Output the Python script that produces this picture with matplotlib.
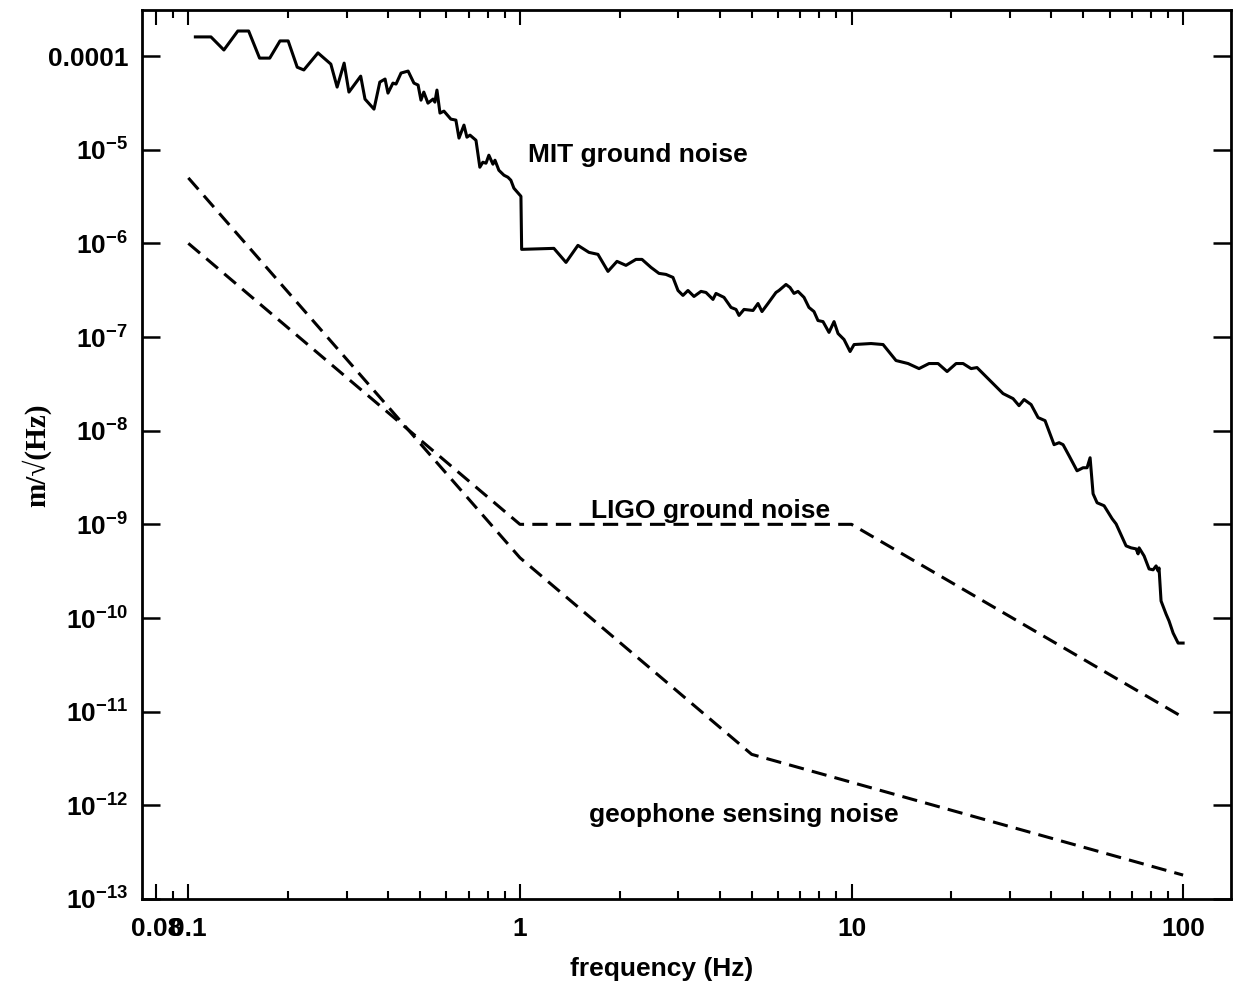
import matplotlib.pyplot as plt

plt.rcParams['font.family'] = ['Liberation Sans', 'DejaVu Sans']
plt.rcParams['font.weight'] = 'bold'
plt.rcParams['axes.labelweight'] = 'bold'
plt.rcParams['mathtext.fontset'] = 'custom'
plt.rcParams['mathtext.rm'] = 'Liberation Sans:bold'
plt.rcParams['mathtext.it'] = 'Liberation Sans:bold'
plt.rcParams['mathtext.bf'] = 'Liberation Sans:bold'
plt.rcParams['mathtext.default'] = 'rm'

# MIT ground noise (Hz, m/sqrt(Hz))
mit_freq = [0.105, 0.117, 0.128, 0.141, 0.152, 0.164, 0.176, 0.189, 0.200, 0.213,
            0.223, 0.246, 0.269, 0.281, 0.295, 0.305, 0.331, 0.341, 0.363, 0.378,
            0.392, 0.400, 0.414, 0.423, 0.438, 0.460, 0.479, 0.493, 0.503, 0.513,
            0.528, 0.547, 0.554, 0.562, 0.574, 0.590, 0.619, 0.641, 0.655, 0.678,
            0.692, 0.707, 0.737, 0.757, 0.773, 0.790, 0.806, 0.829, 0.841, 0.864,
            0.895, 0.920, 0.939, 0.959, 1.007, 1.012,
            1.24, 1.266, 1.377, 1.496, 1.615, 1.719, 1.843, 1.962, 2.088, 2.238,
            2.334, 2.484, 2.626, 2.757, 2.894, 2.997, 3.102, 3.212, 3.349, 3.516,
            3.640, 3.821, 3.902, 4.125, 4.331, 4.484, 4.578, 4.74, 5.046, 5.224,
            5.37, 5.599, 5.918, 6.043, 6.344, 6.523, 6.707, 6.896, 7.19, 7.44,
            7.705, 7.922, 8.204, 8.553, 8.857, 9.106, 9.494, 9.90, 10.18,
            11.45, 12.45, 13.62, 14.81, 15.98, 17.13, 18.24, 19.42, 20.67, 21.7,
            22.94, 23.9, 25.99, 28.64, 30.7, 32.0, 33.15, 34.8, 36.53, 38.34,
            40.82, 42.26, 43.45, 45.3, 47.88, 49.92, 51.33, 52.42, 53.52, 55.03,
            57.77, 61.07, 62.8, 67.3, 69.67, 72.14, 73.15, 73.66, 76.27, 78.96,
            81.19, 82.9, 84.05, 84.6, 85.8, 88.85, 90.7, 93.3, 96.6, 100.0]
mit_amp = [1.60e-4, 1.60e-4, 1.16e-4, 1.85e-4, 1.85e-4, 9.5e-5, 9.5e-5, 1.45e-4, 1.45e-4, 7.6e-5,
           7.1e-5, 1.08e-4, 8.2e-5, 4.66e-5, 8.4e-5, 4.12e-5, 6.1e-5, 3.47e-5, 2.71e-5, 5.27e-5,
           5.68e-5, 4.02e-5, 5.14e-5, 5.02e-5, 6.58e-5, 6.91e-5, 5.14e-5, 4.9e-5, 3.38e-5, 4.12e-5,
           3.14e-5, 3.47e-5, 3.22e-5, 4.33e-5, 2.46e-5, 2.58e-5, 2.12e-5, 2.07e-5, 1.33e-5, 1.83e-5,
           1.36e-5, 1.43e-5, 1.26e-5, 6.5e-6, 7.35e-6, 7.17e-6, 8.73e-6, 7.0e-6, 7.72e-6, 6.03e-6,
           5.34e-6, 5.08e-6, 4.72e-6, 3.88e-6, 3.18e-6, 8.63e-7,
           8.84e-7, 8.84e-7, 6.26e-7, 9.52e-7, 8.01e-7, 7.63e-7, 5.02e-7, 6.42e-7, 5.82e-7, 6.74e-7,
           6.74e-7, 5.54e-7, 4.78e-7, 4.66e-7, 4.33e-7, 3.14e-7, 2.78e-7, 3.14e-7, 2.71e-7, 3.07e-7,
           2.99e-7, 2.52e-7, 2.92e-7, 2.65e-7, 2.07e-7, 1.97e-7, 1.70e-7, 1.97e-7, 1.92e-7, 2.28e-7,
           1.87e-7, 2.28e-7, 2.99e-7, 3.14e-7, 3.64e-7, 3.38e-7, 2.92e-7, 3.07e-7, 2.65e-7, 2.07e-7,
           1.87e-7, 1.50e-7, 1.46e-7, 1.12e-7, 1.46e-7, 1.09e-7, 9.4e-8, 7.0e-8, 8.31e-8,
           8.52e-8, 8.31e-8, 5.61e-8, 5.21e-8, 4.6e-8, 5.21e-8, 5.21e-8, 4.28e-8, 5.21e-8, 5.21e-8,
           4.6e-8, 4.72e-8, 3.51e-8, 2.49e-8, 2.2e-8, 1.85e-8, 2.15e-8, 1.9e-8, 1.38e-8, 1.28e-8,
           7.09e-9, 7.44e-9, 7.09e-9, 5.4e-9, 3.73e-9, 4.02e-9, 4.02e-9, 5.14e-9, 2.12e-9, 1.70e-9,
           1.58e-9, 1.15e-9, 1.01e-9, 5.89e-10, 5.61e-10, 5.47e-10, 4.84e-10, 5.61e-10, 4.6e-10, 3.34e-10,
           3.27e-10, 3.6e-10, 3.18e-10, 3.42e-10, 1.52e-10, 1.10e-10, 9.29e-11, 6.91e-11, 5.4e-11, 5.4e-11]

# LIGO ground noise model (broken power law)
ligo_freq = [0.1, 1, 10, 100]
ligo_amp = [1e-6, 1e-9, 1e-9, 8.7e-12]

# geophone sensing noise
geo_freq = [0.1, 1, 5, 100]
geo_amp = [5e-6, 4.4e-10, 3.5e-12, 1.8e-13]

x_major = [0.08, 0.1, 1, 10, 100]
x_major_labels = ['0.08', '0.1', '1', '10', '100']
x_minor = [0.09, 0.2, 0.3, 0.4, 0.5, 0.6, 0.7, 0.8, 0.9,
           2, 3, 4, 5, 6, 7, 8, 9, 20, 30, 40, 50, 60, 70, 80, 90]
y_major = [1e-4, 1e-5, 1e-6, 1e-7, 1e-8, 1e-9, 1e-10, 1e-11, 1e-12, 1e-13]
y_labels = ['0.0001', r'$10^{-5}$', r'$10^{-6}$', r'$10^{-7}$', r'$10^{-8}$',
            r'$10^{-9}$', r'$10^{-10}$', r'$10^{-11}$', r'$10^{-12}$', r'$10^{-13}$']

fig = plt.figure(figsize=(12.35, 9.81), dpi=100)
ax = fig.add_axes([0.115, 0.0836, 0.8818, 0.9062])

ax.plot(mit_freq, mit_amp, color='black', linewidth=2.2, solid_joinstyle='round')
ax.plot(ligo_freq, ligo_amp, color='black', linewidth=2.2, linestyle=(0, (5, 2.7)))
ax.plot(geo_freq, geo_amp, color='black', linewidth=2.2, linestyle=(0, (5, 2.7)))

ax.set_xscale('log')
ax.set_yscale('log')
ax.set_xlim(0.0725, 139.5)
ax.set_ylim(1e-13, 3.1e-4)

ax.set_xticks(x_major, x_major_labels)
ax.set_xticks(x_minor, minor=True)
ax.set_yticks(y_major, y_labels)
ax.set_yticks([], minor=True)

ax.tick_params(which='both', direction='in', top=True, right=True, labelsize=19)
ax.tick_params(axis='x', which='major', length=11, width=1.5, pad=13)
ax.tick_params(axis='x', which='minor', length=6, width=1.5)
ax.tick_params(axis='y', which='major', length=13, width=1.8, pad=10)
for sp in ax.spines.values():
    sp.set_linewidth(2)

ax.set_xlabel('frequency (Hz)', fontsize=19, fontweight='bold', va='center')
ax.xaxis.set_label_coords(0.4775, -0.0787)
ax.set_ylabel('m/\u221a(Hz)', fontsize=21, fontweight='bold',
              family=['Liberation Serif', 'DejaVu Serif'], va='center', ha='center')
ax.yaxis.set_label_coords(-0.0973, 0.4994)

ax.text(1.057, 7.35e-6, 'MIT ground noise', fontsize=19, va='baseline')
ax.text(1.64, 1.17e-9, 'LIGO ground noise', fontsize=19, va='baseline')
ax.text(1.615, 6.7e-13, 'geophone sensing noise', fontsize=19, va='baseline')

fig.savefig('out.png', dpi=100)
